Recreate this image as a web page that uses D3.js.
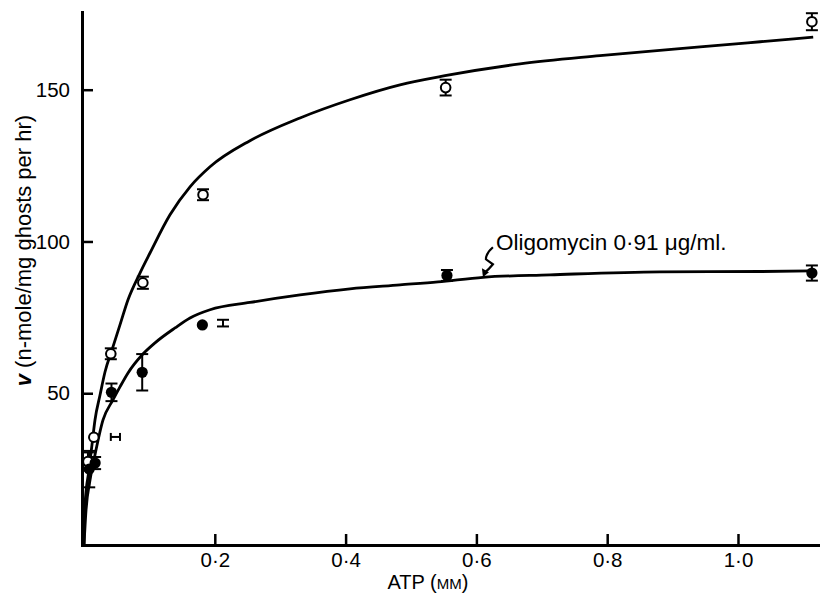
<!DOCTYPE html>
<html>
<head>
<meta charset="utf-8">
<script src="https://cdn.jsdelivr.net/npm/d3@7"></script>
<style>
  html, body { margin: 0; padding: 0; background: #fff; }
  svg { display: block; }
  text { font-family: "Liberation Sans", Arial, Helvetica, sans-serif; fill: #000; }
</style>
</head>
<body>
<svg id="chart" width="820" height="593"></svg>
<script>
// ATP-dependent rate of ghost ATPase, with and without oligomycin.

// Axis ticks
const xTicks = [0.2, 0.4, 0.6, 0.8, 1.0];
const yTicks = [50, 100, 150];

// Control (open circles): ATP (mM), rate, ± error
const controlATP  = [0.006, 0.015, 0.041, 0.090, 0.182, 0.553, 1.113];
const controlRate = [27.5, 35.5, 63.0, 86.4, 115.4, 150.7, 172.4];
const controlErr  = [3.0, 0, 1.8, 2.0, 1.8, 2.6, 2.8];

// Oligomycin 0·91 µg/ml (filled circles)
const oligoATP  = [0.008, 0.017, 0.042, 0.089, 0.181, 0.555, 1.113];
const oligoRate = [25.0, 27.0, 50.3, 56.9, 72.5, 88.8, 89.6];
const oligoErr  = [6.0, 2.0, 2.9, 6.0, 0, 1.8, 2.5];

// Error bars drawn beside crowded points
const oligoSideBarATP  = [0.2125];
const oligoSideBarRate = [73.1];
const oligoSideBarErr  = [1.1];
const controlSideBarRate = [35.6];
const controlSideBarLo   = [0.041];
const controlSideBarHi   = [0.055];

// Fitted saturation curves
const controlFitATP  = [0, 0.0015, 0.0076, 0.0122, 0.0168, 0.0245, 0.0321, 0.0428, 0.055, 0.0673, 0.0856, 0.1009, 0.1315, 0.1621, 0.1927, 0.2538, 0.3303, 0.4067, 0.4832, 0.552, 0.6667, 0.789, 0.942, 1.034, 1.115];
const controlFitRate = [0, 13.2, 24.7, 33.0, 41.2, 49.4, 57.0, 64.3, 72.5, 80.8, 89.6, 96.2, 108.8, 118.0, 124.6, 133.2, 140.7, 146.7, 151.6, 154.6, 158.5, 161.2, 164.1, 165.8, 167.3];
const oligoFitATP  = [0, 0.0031, 0.0092, 0.0168, 0.0291, 0.0443, 0.055, 0.0673, 0.0887, 0.1086, 0.1391, 0.1621, 0.1927, 0.2538, 0.3303, 0.4067, 0.4832, 0.5413, 0.6101, 0.7125, 0.8807, 1.0336, 1.1131];
const oligoFitRate = [0, 11.5, 21.4, 29.7, 41.2, 47.8, 52.1, 56.7, 62.6, 66.6, 71.5, 74.8, 77.5, 79.9, 82.4, 84.4, 85.7, 86.7, 88.2, 89.0, 90.0, 90.1, 90.3];

// Curve label and where its arrow points
const oligoLabel = "Oligomycin 0·91 μg/ml.";
const oligoArrowATP = 0.61;
const oligoArrowRate = 88.2;

const svg = d3.select("#chart");

const x = d3.scaleLinear().domain([-0.00306, 1.1254]).range([82, 820]);
const y = d3.scaleLinear().domain([0, 175.6]).range([545, 12]);

const fmt = d => d3.format(".1f")(d).replace(".", "·");

// Axes with inward ticks
const xAxis = svg.append("g")
  .attr("transform", `translate(0,${y(0)})`)
  .call(d3.axisBottom(x).tickValues(xTicks).tickFormat(fmt).tickSizeInner(-11).tickSizeOuter(0).tickPadding(7));
const yAxis = svg.append("g")
  .attr("transform", `translate(${x.range()[0]},0)`)
  .call(d3.axisLeft(y).tickValues(yTicks).tickSizeInner(-11).tickSizeOuter(0).tickPadding(12));

[xAxis, yAxis].forEach(g => {
  g.select(".domain").attr("stroke", "#000").attr("stroke-width", 3).attr("stroke-linecap", "square");
  g.selectAll(".tick line").attr("stroke", "#000").attr("stroke-width", 2.5);
  g.selectAll(".tick text").attr("font-size", 20.5).attr("font-family", "Liberation Sans, Arial, sans-serif").attr("fill", "#000");
});

// Axis titles
const yTitle = svg.append("text")
  .attr("transform", `translate(31,${y(97)}) rotate(-90)`)
  .attr("text-anchor", "middle")
  .attr("font-size", 22);
yTitle.append("tspan").attr("font-style", "italic").attr("font-weight", "bold").text("v");
yTitle.append("tspan").text(" (n-mole/mg ghosts per hr)");

const xTitle = svg.append("text")
  .attr("x", x(0.526))
  .attr("y", 589)
  .attr("text-anchor", "middle")
  .attr("font-size", 20);
xTitle.append("tspan").text("ATP (");
xTitle.append("tspan").attr("font-size", 15).text("MM");
xTitle.append("tspan").text(")");

// Curves
const line = d3.line().x(d => x(d[0])).y(d => y(d[1])).curve(d3.curveMonotoneX);
const zip = (a, b) => a.map((v, i) => [v, b[i]]);

svg.append("path")
  .datum(zip(controlFitATP, controlFitRate))
  .attr("d", line)
  .attr("fill", "none").attr("stroke", "#000").attr("stroke-width", 2.8);
svg.append("path")
  .datum(zip(oligoFitATP, oligoFitRate))
  .attr("d", line)
  .attr("fill", "none").attr("stroke", "#000").attr("stroke-width", 2.8);

// Vertical error bars
function errorBars(atp, rate, err) {
  const g = svg.append("g").attr("stroke", "#000").attr("stroke-width", 2);
  atp.forEach((a, i) => {
    if (!err[i]) return;
    const cx = x(a), top = y(rate[i] + err[i]), bot = y(rate[i] - err[i]);
    g.append("line").attr("x1", cx).attr("x2", cx).attr("y1", top).attr("y2", bot);
    g.append("line").attr("x1", cx - 6).attr("x2", cx + 6).attr("y1", top).attr("y2", top);
    g.append("line").attr("x1", cx - 6).attr("x2", cx + 6).attr("y1", bot).attr("y2", bot);
  });
}
errorBars(controlATP, controlRate, controlErr);
errorBars(oligoATP, oligoRate, oligoErr);
errorBars(oligoSideBarATP, oligoSideBarRate, oligoSideBarErr);

// Horizontal bar beside the low-ATP control point
const hb = svg.append("g").attr("stroke", "#000").attr("stroke-width", 2);
controlSideBarRate.forEach((r, i) => {
  const cy = y(r), x1 = x(controlSideBarLo[i]), x2 = x(controlSideBarHi[i]);
  hb.append("line").attr("x1", x1).attr("x2", x2).attr("y1", cy).attr("y2", cy);
  hb.append("line").attr("x1", x1).attr("x2", x1).attr("y1", cy - 4).attr("y2", cy + 4);
  hb.append("line").attr("x1", x2).attr("x2", x2).attr("y1", cy - 4).attr("y2", cy + 4);
});

// Points
svg.append("g").selectAll("circle")
  .data(zip(controlATP, controlRate))
  .join("circle")
  .attr("cx", d => x(d[0])).attr("cy", d => y(d[1])).attr("r", 4.8)
  .attr("fill", "#fff").attr("stroke", "#000").attr("stroke-width", 2);
svg.append("g").selectAll("circle")
  .data(zip(oligoATP, oligoRate))
  .join("circle")
  .attr("cx", d => x(d[0])).attr("cy", d => y(d[1])).attr("r", 5.6)
  .attr("fill", "#000");

// Curve label with squiggle arrow
const tx = x(oligoArrowATP), ty = y(oligoArrowRate);
const ann = svg.append("g").attr("transform", `translate(${tx},${ty})`);
ann.append("path")
  .attr("d", "M10,-30 Q3,-24 3,-18 L10,-13 Q6,-8 2,-5")
  .attr("fill", "none").attr("stroke", "#000").attr("stroke-width", 2.2);
ann.append("path")
  .attr("d", "M0,0 L-1,-9 L6,-5 Z")
  .attr("fill", "#000");
ann.append("text")
  .attr("x", 13).attr("y", -27)
  .attr("font-size", 22.5)
  .text(oligoLabel);
</script>
</body>
</html>
